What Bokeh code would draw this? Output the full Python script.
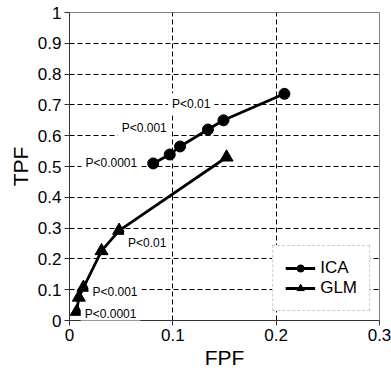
from bokeh.plotting import figure
from bokeh.models import Label, Legend, LegendItem, FixedTicker, Title
from bokeh.embed import file_html
from bokeh.resources import INLINE

# data
ica_fpf = [0.081, 0.097, 0.107, 0.134, 0.149, 0.208]
ica_tpf = [0.51, 0.539, 0.565, 0.62, 0.650, 0.736]
glm_fpf = [0.007, 0.009, 0.0135, 0.031, 0.048, 0.152]
glm_tpf = [0.029, 0.075, 0.107, 0.226, 0.292, 0.530]
ica_labels = ["P<0.0001", "P<0.001", "P<0.01"]
ica_label_idx = [0, 1, 4]
glm_labels = ["P<0.0001", "P<0.001", "P<0.01"]
glm_label_idx = [0, 2, 4]
x_ticks = [0, 0.1, 0.2, 0.3]
y_ticks = [0, 0.1, 0.2, 0.3, 0.4, 0.5, 0.6, 0.7, 0.8, 0.9, 1.0]
x_title = "FPF"
y_title = "TPF"

FONT = "Liberation Sans"

p = figure(width=391, height=373, output_backend="svg", toolbar_location=None,
           x_range=(0, 0.3), y_range=(0, 1),
           min_border_left=69, min_border_right=12, min_border_top=12, min_border_bottom=53)
p.background_fill_color = "white"
p.border_fill_color = "white"
p.outline_line_color = "#808080"
p.outline_line_width = 1

for ax, ticks in ((p.xaxis[0], x_ticks), (p.yaxis[0], y_ticks)):
    ax.ticker = FixedTicker(ticks=ticks)
    ax.minor_tick_line_color = None
    ax.major_tick_in = 0
    ax.major_tick_out = 5
    ax.axis_line_color = "#333333"
    ax.major_tick_line_color = "#333333"
    ax.major_label_text_font = FONT
    ax.major_label_text_font_size = "17px"
    ax.major_label_text_color = "black"
p.xaxis.major_label_overrides = {0: "0"}
p.yaxis.major_label_overrides = {0: "0", 1: "1"}
p.xaxis.major_label_standoff = 3
p.yaxis.major_label_standoff = 3

# axis titles (slightly off-centre, as in the reference)
p.add_layout(Title(text=x_title, align="center", offset=15, standoff=0,
                   text_font=FONT, text_font_size="21px", text_font_style="normal",
                   text_color="black"), "below")
p.add_layout(Title(text=y_title, align="center", offset=8, standoff=6,
                   text_font=FONT, text_font_size="21px", text_font_style="normal",
                   text_color="black"), "left")

p.xgrid.ticker = FixedTicker(ticks=x_ticks[1:-1])
p.ygrid.ticker = FixedTicker(ticks=y_ticks[1:-1])
for g in (p.xgrid[0], p.ygrid[0]):
    g.grid_line_color = "black"
    g.grid_line_dash = "5 3"
    g.grid_line_width = 1

# labels (white background hides grid lines)
ica_off = [(-12, 0, "right", "middle"), (1, 15, "right", "bottom"), (-9, 5, "right", "bottom")]
glm_off = [(4, -2, "left", "middle"), (5, -4, "left", "middle"), (5, -12, "left", "middle")]
for texts, idxs, xs, ys, offs in ((ica_labels, ica_label_idx, ica_fpf, ica_tpf, ica_off),
                                   (glm_labels, glm_label_idx, glm_fpf, glm_tpf, glm_off)):
    for t, i, (dx, dy, al, bl) in zip(texts, idxs, offs):
        p.add_layout(Label(x=xs[i], y=ys[i], text=t, x_offset=dx, y_offset=dy,
                           text_align=al, text_baseline=bl,
                           text_font=FONT, text_font_size="12px", text_color="black",
                           background_fill_color="white", padding=4))

l1 = p.line(ica_fpf, ica_tpf, line_color="black", line_width=2.8)
m1 = p.scatter(ica_fpf, ica_tpf, marker="circle", size=11, fill_color="black", line_color="black")
l2 = p.line(glm_fpf, glm_tpf, line_color="black", line_width=2.8)
m2 = p.scatter(glm_fpf, glm_tpf, marker="triangle", size=13, fill_color="black", line_color="black")

legend = Legend(items=[LegendItem(label="ICA", renderers=[l1, m1]),
                       LegendItem(label="GLM", renderers=[l2, m2])],
                location="bottom_right")
legend.label_text_font = FONT
legend.label_text_font_size = "17px"
legend.label_text_color = "black"
legend.border_line_color = "#999999"
legend.border_line_dash = "1 2"
legend.border_line_width = 1
legend.glyph_width = 30
legend.glyph_height = 18
legend.label_height = 18
legend.label_standoff = 5
legend.spacing = 0
legend.padding = 12
legend.margin = 9
legend.background_fill_alpha = 1
p.add_layout(legend)

open("out.html", "w").write(file_html(p, INLINE))
